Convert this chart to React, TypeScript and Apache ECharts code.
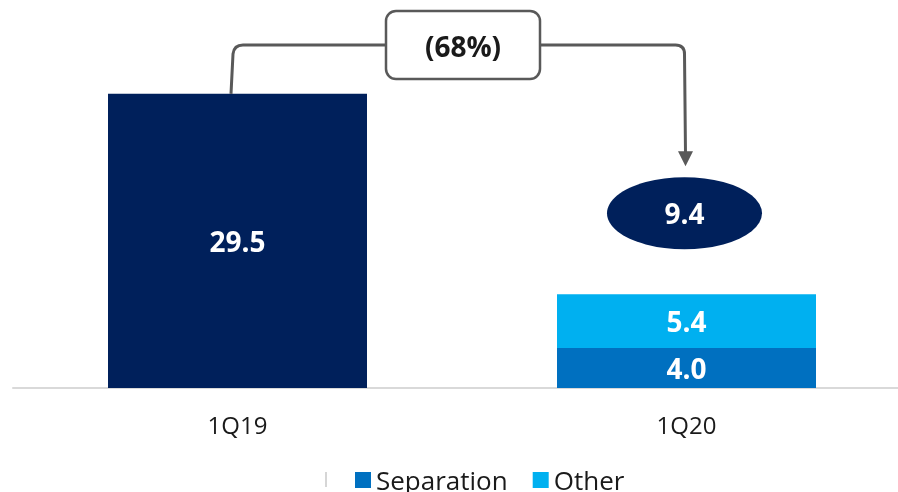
import React, { useEffect, useRef } from "react";
import * as echarts from "echarts";

const categories = ["1Q19", "1Q20"];
const totalValues = [29.5, null];
const separationValues = [null, 4.0];
const otherValues = [null, 5.4];

const NAVY = "#00205B";
const SEP = "#0070C0";
const OTHER = "#00B0F0";
const GREY = "#595959";
const FONT = "'Open Sans', 'Noto Sans', sans-serif";

echarts.graphic.registerShape(
  "bracket",
  echarts.graphic.extendShape({
    shape: { x1: 0, y1: 0, yTop: 0, xBoxL: 0, xBoxR: 0, x2: 0, y2: 0, r: 9 },
    buildPath(ctx: any, s: any) {
      ctx.moveTo(s.x1, s.y1);
      ctx.lineTo(s.x1 + 2, s.yTop + s.r);
      ctx.quadraticCurveTo(s.x1 + 3, s.yTop, s.x1 + 3 + s.r, s.yTop);
      ctx.lineTo(s.xBoxL, s.yTop);
      ctx.moveTo(s.xBoxR, s.yTop);
      ctx.lineTo(s.x2 - s.r, s.yTop);
      ctx.quadraticCurveTo(s.x2, s.yTop, s.x2, s.yTop + s.r);
      ctx.lineTo(s.x2 + 1, s.y2);
    },
  })
);

export default function App() {
  const ref = useRef<HTMLDivElement>(null);
  useEffect(() => {
    if (!ref.current) return;
    const chart = echarts.init(ref.current, null, { renderer: "svg" });
    const total2 = (separationValues[1] as number) + (otherValues[1] as number);
    const change = Math.round((total2 / (totalValues[0] as number) - 1) * 100);
    const changeText = change < 0 ? `(${Math.abs(change)}%)` : `${change}%`;

    const barLabel = {
      show: true,
      position: "inside" as const,
      color: "#ffffff",
      fontFamily: FONT,
      fontWeight: "bold" as const,
      fontSize: 28,
      formatter: (p: any) => (p.value == null ? "" : Number(p.value).toFixed(1)),
    };

    chart.setOption({
      animation: false,
      grid: { left: 13, top: 39, width: 898, bottom: 104, containLabel: false, outerBoundsMode: "none" },
      legend: {
        data: ["Separation", "Other"],
        left: 355,
        top: 467,
        padding: 0,
        icon: "rect",
        itemWidth: 16,
        itemHeight: 16,
        itemGap: 25,
        textStyle: { fontFamily: FONT, fontSize: 26, lineHeight: 24, color: "#1a1a1a" },
      },
      xAxis: {
        type: "category",
        data: categories,
        axisLine: { lineStyle: { color: "#d9d9d9", width: 2 } },
        axisTick: { show: false },
        axisLabel: { fontFamily: FONT, fontSize: 24, color: "#1a1a1a", margin: 24 },
      },
      yAxis: { type: "value", min: 0, max: 35, show: false, splitLine: { show: false } },
      series: [
        {
          name: "Total",
          type: "bar",
          stack: "a",
          barWidth: 259,
          data: totalValues.map((v) => (v == null ? "-" : v)),
          itemStyle: { color: NAVY },
          label: barLabel,
        },
        {
          name: "Separation",
          type: "bar",
          stack: "a",
          barWidth: 259,
          data: separationValues.map((v) => (v == null ? "-" : v)),
          itemStyle: { color: SEP },
          label: barLabel,
        },
        {
          name: "Other",
          type: "bar",
          stack: "a",
          barWidth: 259,
          data: otherValues.map((v) => (v == null ? "-" : v)),
          itemStyle: { color: OTHER },
          label: barLabel,
        },
        {
          name: "Sum",
          type: "scatter",
          z: 5,
          data: [["1Q20", total2]],
          symbol: "circle",
          symbolSize: [155, 72],
          symbolOffset: [-2, -81],
          itemStyle: { color: NAVY, opacity: 1 },
          label: {
            show: true,
            position: "inside",
            color: "#ffffff",
            fontFamily: FONT,
            fontWeight: "bold",
            fontSize: 28,
            formatter: (p: any) => Number(p.value[1]).toFixed(1),
          },
        },
      ],
    });

    const p1 = chart.convertToPixel({ xAxisIndex: 0, yAxisIndex: 0 }, ["1Q19", totalValues[0]]) as number[];
    const p2 = chart.convertToPixel({ xAxisIndex: 0, yAxisIndex: 0 }, ["1Q20", total2]) as number[];
    const yTop = 45;
    const boxW = 154;
    const boxH = 68;
    const boxL = 386;
    const arrowTip = p2[1] - 128;
    const ax = p2[0] - 1;

    chart.setOption({
      graphic: [
        {
          type: "bracket",
          shape: {
            x1: p1[0] - 6.5,
            y1: p1[1],
            yTop,
            xBoxL: boxL,
            xBoxR: boxL + boxW,
            x2: ax - 1,
            y2: arrowTip - 13,
            r: 9,
          },
          style: { stroke: GREY, lineWidth: 3, fill: null },
          z: 10,
        },
        {
          type: "polygon",
          shape: { points: [[ax - 7.5, arrowTip - 15], [ax + 7.5, arrowTip - 15], [ax, arrowTip]] },
          style: { fill: GREY },
          z: 10,
        },
        {
          type: "rect",
          shape: { x: boxL, y: yTop - boxH / 2, width: boxW, height: boxH, r: 10 },
          style: { fill: "#ffffff", stroke: GREY, lineWidth: 2.5 },
          z: 10,
        },
        {
          type: "text",
          x: boxL + boxW / 2,
          y: yTop + 1,
          style: {
            text: changeText,
            fontFamily: FONT,
            fontWeight: "bold",
            fontSize: 28,
            fill: "#1a1a1a",
            align: "center",
            verticalAlign: "middle",
          },
          z: 11,
        },
        {
          type: "line",
          shape: { x1: 326, y1: 472, x2: 326, y2: 487 },
          style: { stroke: "#c8c8c8", lineWidth: 1.5 },
        },
      ],
    });

    return () => chart.dispose();
  }, []);
  return <div ref={ref} style={{ position: "fixed", left: 0, top: 0, width: 898, height: 492 }} />;
}
